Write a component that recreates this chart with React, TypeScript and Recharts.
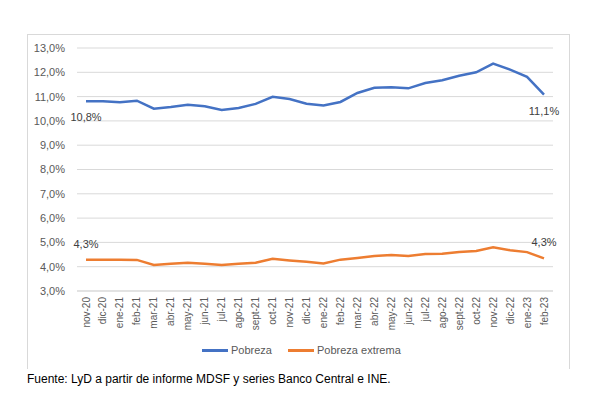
import { LineChart, Line, XAxis, YAxis, CartesianGrid, LabelList } from 'recharts';

const months = [
  'nov-20', 'dic-20', 'ene-21', 'feb-21', 'mar-21', 'abr-21', 'may-21', 'jun-21',
  'jul-21', 'ago-21', 'sept-21', 'oct-21', 'nov-21', 'dic-21', 'ene-22', 'feb-22',
  'mar-22', 'abr-22', 'may-22', 'jun-22', 'jul-22', 'ago-22', 'sept-22', 'oct-22',
  'nov-22', 'dic-22', 'ene-23', 'feb-23',
];

const pobreza = [
  10.81, 10.81, 10.77, 10.83, 10.5, 10.57, 10.66, 10.6, 10.45, 10.53, 10.7, 10.99,
  10.9, 10.71, 10.63, 10.78, 11.15, 11.36, 11.38, 11.34, 11.56, 11.67, 11.86, 12.0,
  12.36, 12.11, 11.81, 11.08,
];

const pobrezaExtrema = [
  4.29, 4.29, 4.29, 4.28, 4.07, 4.12, 4.16, 4.12, 4.07, 4.12, 4.16, 4.33,
  4.26, 4.2, 4.13, 4.29, 4.36, 4.44, 4.48, 4.44, 4.52, 4.53, 4.6, 4.65,
  4.8, 4.68, 4.6, 4.34,
];

const yTicks = [3, 4, 5, 6, 7, 8, 9, 10, 11, 12, 13];

const data = months.map((m, i) => ({
  month: m,
  pobreza: pobreza[i],
  extrema: pobrezaExtrema[i],
}));

const FONT = '"Liberation Sans", Arial, sans-serif';
const BLUE = '#4472C4';
const ORANGE = '#ED7D31';
const last = months.length - 1;

const fmt = (v: number) => v.toFixed(1).replace('.', ',') + '%';

const XTick = ({ x, y, payload }: any) => (
  <text
    transform={`translate(${x},${y}) rotate(-90)`}
    textAnchor="end"
    dy="0.35em"
    fontSize={10}
    fill="#595959"
    fontFamily={FONT}
  >
    {payload.value}
  </text>
);

const endLabel = (dy: number) => (props: any) => {
  const { x, y, index, value } = props;
  if (index !== 0 && index !== last) return null;
  return (
    <text
      x={x}
      y={y + dy}
      textAnchor="middle"
      dominantBaseline="central"
      fontSize={11}
      fill="#404040"
      fontFamily={FONT}
    >
      {fmt(value)}
    </text>
  );
};

export default function App() {
  return (
    <div style={{ position: 'absolute', left: 0, top: 0, width: 592, height: 397, background: '#fff', fontFamily: FONT }}>
      <div
        style={{
          position: 'absolute',
          left: 27,
          top: 34,
          width: 541,
          height: 334,
          borderLeft: '1px solid #d9d9d9',
          borderTop: '1px solid #d9d9d9',
          borderRight: '1px solid #d9d9d9',
        }}
      />
      <div style={{ position: 'absolute', left: 0, top: 0 }}>
        <LineChart width={592} height={397} data={data} margin={{ top: 48, right: 39, bottom: 36, left: 17 }}>
          <CartesianGrid vertical={false} stroke="#d9d9d9" />
          <XAxis
            dataKey="month"
            interval={0}
            height={70}
            padding={{ left: 9, right: 9 }}
            tickLine={false}
            axisLine={{ stroke: '#d9d9d9' }}
            tick={<XTick />}
            tickSize={0}
            tickMargin={6}
          />
          <YAxis
            width={60}
            domain={[3, 13]}
            ticks={yTicks}
            tickFormatter={fmt}
            axisLine={false}
            tickLine={false}
            tickSize={0}
            tickMargin={12}
            tick={{ fontSize: 11, fill: '#595959', fontFamily: FONT }}
          />
          <Line type="linear" dataKey="pobreza" stroke={BLUE} strokeWidth={2.5} dot={false} isAnimationActive={false}>
            <LabelList dataKey="pobreza" content={endLabel(16)} />
          </Line>
          <Line type="linear" dataKey="extrema" stroke={ORANGE} strokeWidth={2.5} dot={false} isAnimationActive={false}>
            <LabelList dataKey="extrema" content={endLabel(-16)} />
          </Line>
        </LineChart>
      </div>
      <div style={{ position: 'absolute', left: 202, top: 342, display: 'flex', alignItems: 'center', fontSize: 11, color: '#595959', lineHeight: '16px' }}>
        <span style={{ display: 'inline-block', width: 26, height: 3, background: BLUE, marginRight: 3 }} />
        <span>Pobreza</span>
        <span style={{ display: 'inline-block', width: 26, height: 3, background: ORANGE, marginLeft: 16, marginRight: 3 }} />
        <span>Pobreza extrema</span>
      </div>
      <div style={{ position: 'absolute', left: 27, top: 371, fontSize: 12, color: '#000', lineHeight: '17px', whiteSpace: 'nowrap' }}>
        Fuente: LyD a partir de informe MDSF y series Banco Central e INE.
      </div>
    </div>
  );
}
